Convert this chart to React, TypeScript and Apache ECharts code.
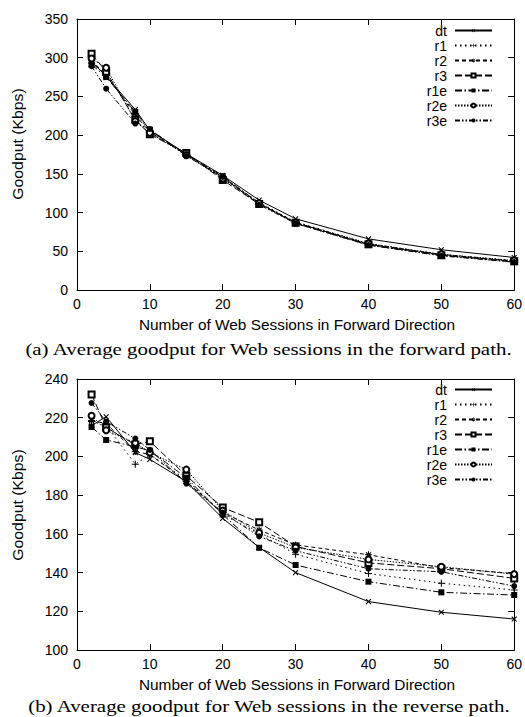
import React, { useEffect, useRef } from 'react';
import * as echarts from 'echarts';

// Number of Web sessions (x)
const sessions = [2, 4, 8, 10, 15, 20, 25, 30, 40, 50, 60];
const seriesNames = ['dt', 'r1', 'r2', 'r3', 'r1e', 'r2e', 'r3e'];

// (a) forward path goodput (Kbps)
const fwdDt = [295, 276, 233, 206, 176, 148, 116, 92, 66, 52, 42];
const fwdR1 = [293, 278, 228, 205, 175, 146, 113, 88, 60, 46, 38];
const fwdR2 = [297, 277, 226, 204, 175, 145, 112, 87, 59, 46, 37];
const fwdR3 = [305, 282, 220, 201, 177, 142, 111, 87, 59, 45, 37];
const fwdR1e = [291, 275, 230, 207, 175, 147, 112, 86, 58, 45, 36];
const fwdR2e = [299, 287, 218, 203, 174, 144, 112, 87, 60, 46, 38];
const fwdR3e = [289, 260, 215, 208, 173, 146, 110, 86, 58, 44, 36];

// (b) reverse path goodput (Kbps)
const revDt = [216, 220.5, 202, 198.5, 187, 168, 153, 140, 125, 119.5, 116];
const revR1 = [218, 216, 196, 201, 188, 170, 160, 149.5, 139.5, 134.5, 131];
const revR2 = [218.5, 217, 202.5, 201, 187, 171, 162, 154.3, 149.2, 142.5, 139.5];
const revR3 = [232, 215, 206, 207.8, 190, 173.6, 166, 153.5, 145, 142, 137];
const revR1e = [215.2, 208.5, 205, 203, 189, 170, 152.8, 143.9, 135.3, 129.8, 128.4];
const revR2e = [221, 213.5, 207, 202, 193.2, 172, 160.5, 153, 146.8, 143, 139.2];
const revR3e = [227.6, 218, 209.2, 203.4, 186, 171, 158.7, 151.3, 142, 140.4, 133];

const fwdValues = [fwdDt, fwdR1, fwdR2, fwdR3, fwdR1e, fwdR2e, fwdR3e];
const revValues = [revDt, revR1, revR2, revR3, revR1e, revR2e, revR3e];

const xTitle = 'Number of Web Sessions in Forward Direction';
const yTitle = 'Goodput (Kbps)';
const captionA = '(a) Average goodput for Web sessions in the forward path.';
const captionB = '(b) Average goodput for Web sessions in the reverse path.';

const PLUS = 'path://M-0.6,-4H0.6V-0.6H4V0.6H0.6V4H-0.6V0.6H-4V-0.6H-0.6Z';
const STAR =
  'path://M-0.6,-4H0.6V-0.6H4V0.6H0.6V4H-0.6V0.6H-4V-0.6H-0.6Z M2.4,3.25L3.25,2.4L-2.4,-3.25L-3.25,-2.4Z M-3.25,2.4L-2.4,3.25L3.25,-2.4L2.4,-3.25Z';

const styles: any[] = [
  { symbol: PLUS, symbolRotate: 45, symbolSize: 7, type: 'solid', bw: 0 },
  { symbol: PLUS, symbolRotate: 0, symbolSize: 7, type: [1.5, 3.5], bw: 0 },
  { symbol: STAR, symbolRotate: 0, symbolSize: 7, type: [4, 3], bw: 0 },
  { symbol: 'emptyRect', symbolRotate: 0, symbolSize: 6, type: [7, 3], bw: 1 },
  { symbol: 'rect', symbolRotate: 0, symbolSize: 6, type: [7, 2.5, 1.5, 2.5], bw: 0 },
  { symbol: 'emptyCircle', symbolRotate: 0, symbolSize: 6, type: [1.5, 1.5], bw: 1 },
  { symbol: 'circle', symbolRotate: 0, symbolSize: 6, type: [5, 2, 1.5, 2, 1.5, 2], bw: 0 },
];

const SANS = 'Liberation Sans';
const SERIF = 'Liberation Serif';

function makeAxes(min: number, max: number, interval: number) {
  const tick = { show: true, inside: true, length: 6, lineStyle: { color: '#000', width: 1 } };
  const line = { show: true, onZero: false, lineStyle: { color: '#000', width: 1 } };
  const xs = [
    {
      type: 'value', min: 0, max: 60, interval: 10, position: 'bottom',
      axisLine: line, axisTick: tick, splitLine: { show: false },
      axisLabel: { show: true, margin: 7, color: '#000', fontSize: 14, fontFamily: SANS },
    },
    {
      type: 'value', min: 0, max: 60, interval: 10, position: 'top',
      axisLine: line, axisTick: tick, splitLine: { show: false }, axisLabel: { show: false },
    },
  ];
  const ys = [
    {
      type: 'value', min, max, interval, position: 'left',
      axisLine: line, axisTick: tick, splitLine: { show: false },
      axisLabel: { show: true, margin: 9, color: '#000', fontSize: 14, fontFamily: SANS },
    },
    {
      type: 'value', min, max, interval, position: 'right',
      axisLine: line, axisTick: tick, splitLine: { show: false }, axisLabel: { show: false },
    },
  ];
  return { xs, ys };
}

function makeSeries(values: number[][], axisIndex: number) {
  return seriesNames.map((name, k) => {
    const st = styles[k];
    return {
      name,
      type: 'line',
      xAxisIndex: axisIndex,
      yAxisIndex: axisIndex,
      data: sessions.map((x, i) => [x, values[k][i]]),
      symbol: st.symbol,
      symbolSize: st.symbolSize,
      symbolRotate: st.symbolRotate,
      symbolKeepAspect: true,
      showAllSymbol: true,
      lineStyle: { color: '#000', width: 1, type: st.type },
      itemStyle: { color: '#000', borderColor: '#000', borderWidth: st.bw },
      emphasis: { disabled: true },
      z: 2 + k,
    };
  });
}

function legendFor(top: number) {
  return {
    data: seriesNames,
    orient: 'vertical',
    align: 'right',
    right: 27,
    top,
    itemWidth: 37,
    itemHeight: 5,
    itemGap: 0,
    selectedMode: false,
    textStyle: { color: '#000', fontSize: 14, fontFamily: SANS, lineHeight: 15, padding: [0, 3, 0, 0] },
  };
}

function textEl(text: string, x: number, y: number, size: number, family: string, scaleX: number, rotation = 0) {
  return {
    type: 'text',
    x,
    y,
    rotation,
    scaleX,
    silent: true,
    style: {
      text,
      fontSize: size,
      fontFamily: family,
      fill: '#000',
      align: 'center',
      verticalAlign: 'middle',
      textAlign: 'center',
      textVerticalAlign: 'middle',
    },
  };
}

export default function App() {
  const ref = useRef<HTMLDivElement>(null);
  useEffect(() => {
    if (!ref.current) return;
    const chart = echarts.init(ref.current, undefined, { renderer: 'svg' });
    const a = makeAxes(0, 350, 50);
    const b = makeAxes(100, 240, 20);
    const option: any = {
      animation: false,
      backgroundColor: '#fff',
      textStyle: { fontFamily: SANS },
      grid: [
        { left: 77, top: 19, width: 440, height: 271 },
        { left: 77, top: 379, width: 440, height: 271 },
      ],
      xAxis: [a.xs[0], a.xs[1], b.xs[0], b.xs[1]].map((ax: any, i) => ({ ...ax, gridIndex: i < 2 ? 0 : 1 })),
      yAxis: [a.ys[0], a.ys[1], b.ys[0], b.ys[1]].map((ax: any, i) => ({ ...ax, gridIndex: i < 2 ? 0 : 1 })),
      legend: [legendFor(18), legendFor(377)],
      series: [...makeSeries(fwdValues, 0), ...makeSeries(revValues, 2)],
      graphic: [
        textEl(yTitle, 18, 144, 14, SANS, 1.13, Math.PI / 2),
        textEl(yTitle, 18, 505, 14, SANS, 1.13, Math.PI / 2),
        textEl(xTitle, 297, 325, 14, SANS, 1.1),
        textEl(xTitle, 297, 685, 14, SANS, 1.1),
        textEl(captionA, 268.5, 349, 17, SERIF, 1.23),
        textEl(captionB, 269, 706, 17, SERIF, 1.23),
      ],
    };
    chart.setOption(option);
    return () => chart.dispose();
  }, []);
  return (
    <div
      ref={ref}
      style={{ position: 'absolute', left: 0, top: 0, width: 525, height: 717, background: '#fff' }}
    />
  );
}
